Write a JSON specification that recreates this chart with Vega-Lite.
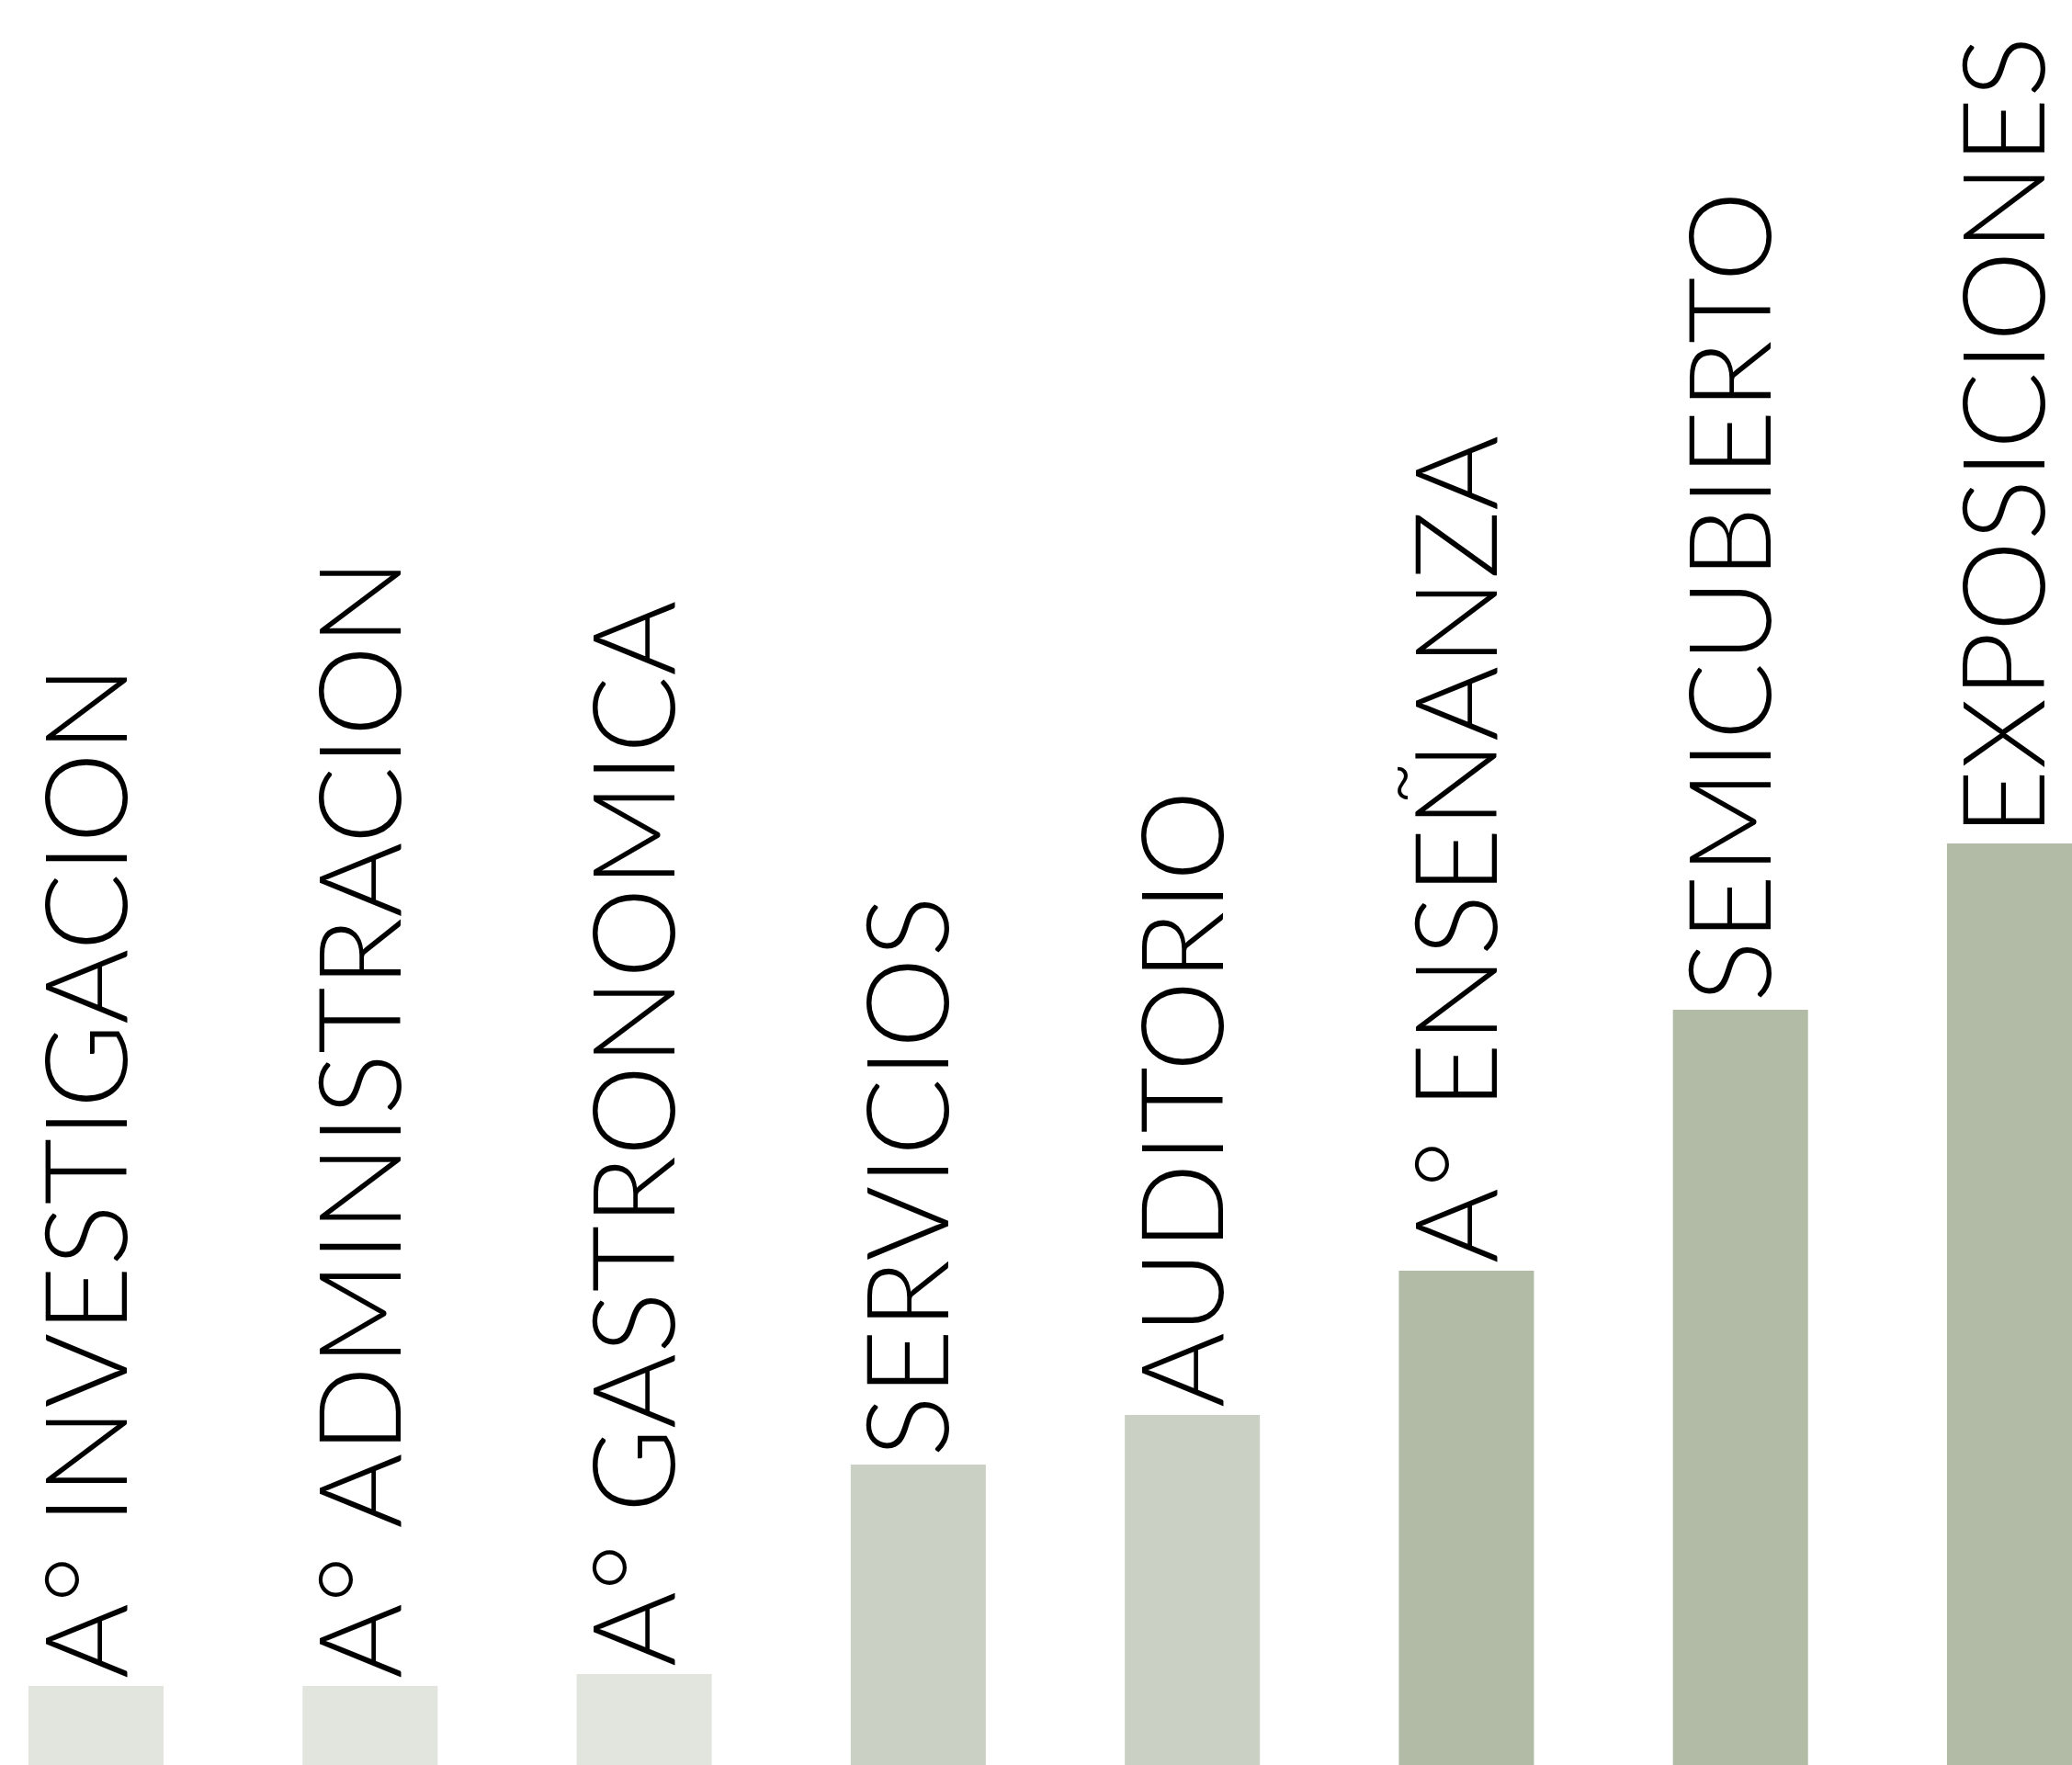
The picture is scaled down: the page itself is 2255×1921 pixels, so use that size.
{
  "$schema": "https://vega.github.io/schema/vega-lite/v6.json",
  "width": 2297,
  "height": 1921,
  "padding": 0,
  "autosize": {"type": "none"},
  "background": "white",
  "config": {"view": {"stroke": null}},
  "data": {
    "values": [
      {"area": "A° INVESTIGACION", "valor": 86, "grupo": "bajo"},
      {"area": "A° ADMINISTRACION", "valor": 86, "grupo": "bajo"},
      {"area": "A° GASTRONOMICA", "valor": 99, "grupo": "bajo"},
      {"area": "SERVICIOS", "valor": 327, "grupo": "medio"},
      {"area": "AUDITORIO", "valor": 381, "grupo": "medio"},
      {"area": "A° ENSEÑANZA", "valor": 538, "grupo": "alto"},
      {"area": "SEMICUBIERTO", "valor": 822, "grupo": "alto"},
      {"area": "EXPOSICIONES", "valor": 1003, "grupo": "alto"}
    ]
  },
  "encoding": {
    "x": {
      "field": "area",
      "type": "nominal",
      "sort": null,
      "axis": null,
      "scale": {"paddingInner": 0.507, "paddingOuter": 0.104}
    },
    "y": {
      "field": "valor",
      "type": "quantitative",
      "axis": null,
      "scale": {"domain": [0, 1921], "nice": false, "zero": true}
    }
  },
  "layer": [
    {
      "mark": {"type": "bar"},
      "encoding": {
        "color": {
          "field": "grupo",
          "type": "nominal",
          "legend": null,
          "scale": {"domain": ["bajo", "medio", "alto"], "range": ["#e2e5de", "#cad1c4", "#b1bba6"]}
        }
      }
    },
    {
      "mark": {
        "type": "text",
        "angle": 270,
        "align": "left",
        "baseline": "alphabetic",
        "font": "Lato",
        "fontWeight": 300,
        "fontSize": 125,
        "color": "#000000",
        "xOffset": 33,
        "yOffset": -8
      },
      "encoding": {
        "text": {"field": "area", "type": "nominal"}
      }
    }
  ]
}
